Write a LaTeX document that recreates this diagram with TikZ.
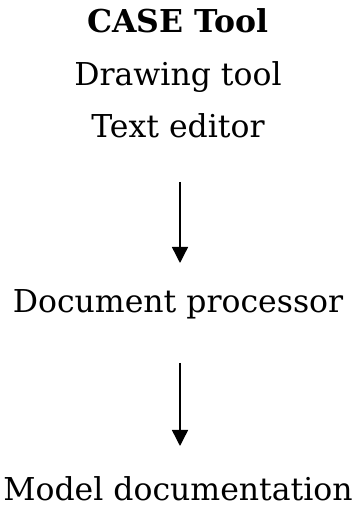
\documentclass[tikz,border=0pt]{standalone}
\usepackage{fontspec}
\setmainfont{DejaVu Serif}
\usetikzlibrary{arrows.meta}
\tikzset{
  label text/.style={anchor=base, inner sep=0pt, font=\fontsize{31.5}{38}\selectfont},
  flow/.style={line width=1.4pt, -{Triangle[width=16pt,length=16pt]}}
}
\begin{document}
\begin{tikzpicture}[x=1pt,y=1pt]
  \useasboundingbox (0,0) rectangle (356,508);
  \node[label text, font=\fontsize{31.5}{38}\selectfont\bfseries] (title) at (178,475) {CASE Tool};
  \node[label text] (draw) at (178,422) {Drawing tool};
  \node[label text] (editor) at (178,370) {Text editor};
  \node[label text] (proc) at (178,195) {Document processor};
  \node[label text] (model) at (178,7) {Model documentation};
  \coordinate (a1s) at (180,326);
  \coordinate (a1e) at (180,245);
  \coordinate (a2s) at (180,145);
  \coordinate (a2e) at (180,62);
  \draw[flow] (a1s) -- (a1e);
  \draw[flow] (a2s) -- (a2e);
\end{tikzpicture}
\end{document}
